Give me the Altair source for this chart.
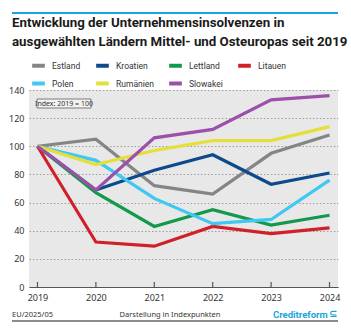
import altair as alt
import pandas as pd

years = ["2019", "2020", "2021", "2022", "2023", "2024"]
countries = ["Estland", "Kroatien", "Lettland", "Litauen", "Polen", "Rumänien", "Slowakei"]
colors = ["#858585", "#0c4a8c", "#12994a", "#d0212b", "#3ec8f2", "#e4df3a", "#9c50aa"]

estland = [100, 105, 72, 66, 95, 108]
kroatien = [100, 69, 83, 94, 73, 81]
lettland = [100, 67, 43, 55, 44, 51]
litauen = [100, 32, 29, 43, 38, 42]
polen = [100, 90, 63, 45, 48, 76]
rumaenien = [100, 87, 97, 104, 104, 114]
slowakei = [100, 69, 106, 112, 133, 136]

series = [estland, kroatien, lettland, litauen, polen, rumaenien, slowakei]
rows = []
for c, vals in zip(countries, series):
    for y, v in zip(years, vals):
        rows.append({"Jahr": y, "Land": c, "Wert": v})
df = pd.DataFrame(rows)

FONT = "Noto Sans"
TFONT = "Roboto"
W, H = 309, 197

xenc = alt.X("Jahr:O", scale=alt.Scale(type="point", padding=0.145),
             axis=alt.Axis(title=None, labelAngle=0, labelFontSize=9, labelColor="#333",
                           labelFont=FONT, labelPadding=6, domainColor="#555", domainWidth=1.2,
                           ticks=False, grid=False))
yenc = alt.Y("Wert:Q", scale=alt.Scale(domain=[0, 140], nice=False),
             axis=alt.Axis(title=None, values=[0, 20, 40, 60, 80, 100, 120, 140],
                           labelFontSize=9, labelColor="#333", labelFont=FONT, labelPadding=5,
                           domain=False, ticks=False, grid=True, gridColor="#8a8a8a",
                           gridDash=[1.5, 2], gridWidth=0.8))

lines = alt.Chart(df).mark_line(strokeWidth=3.2, strokeCap="butt", strokeJoin="miter").encode(
    x=xenc, y=yenc,
    color=alt.Color("Land:N", scale=alt.Scale(domain=countries, range=colors),
                    legend=alt.Legend(title=None, orient="none", legendX=1, legendY=-33,
                                      direction="horizontal", columns=4,
                                      symbolType="stroke", symbolStrokeWidth=4, symbolSize=160,
                                      labelFontSize=8.5, labelFont=TFONT, labelColor="#333",
                                      rowPadding=1, columnPadding=7, labelOffset=5,
                                      gridAlign="each")),
    order=alt.Order("Jahr:O"),
)

ticks_df = pd.DataFrame({"Jahr": years})
ticks = alt.Chart(ticks_df).mark_rule(color="#555", strokeWidth=1.2).encode(
    x=alt.X("Jahr:O"), y=alt.value(H - 5), y2=alt.value(H))

texts = pd.DataFrame({"a": [0]})
base = alt.Chart(texts)
title1 = base.mark_text(text="Entwicklung der Unternehmensinsolvenzen in", align="left",
                        baseline="alphabetic", font=TFONT, fontSize=13.3, fontWeight="bold",
                        color="#1a1a1a").encode(x=alt.value(-17), y=alt.value(-63))
title2 = base.mark_text(text="ausgewählten Ländern Mittel- und Osteuropas seit 2019", align="left",
                        baseline="alphabetic", font=TFONT, fontSize=13.3, fontWeight="bold",
                        color="#1a1a1a").encode(x=alt.value(-17), y=alt.value(-44))
topline = base.mark_rule(color="#1aa3dd", strokeWidth=2).encode(
    x=alt.value(-17), x2=alt.value(309), y=alt.value(-77))
botline = base.mark_rule(color="#666", strokeWidth=1.5).encode(
    x=alt.value(-17), x2=alt.value(309), y=alt.value(231))
foot1 = base.mark_text(text="EU/2025/05", align="left", baseline="alphabetic", font=FONT,
                       fontSize=7.5, color="#333").encode(x=alt.value(-17), y=alt.value(227))
foot2 = base.mark_text(text="Darstellung in Indexpunkten", align="center", baseline="alphabetic",
                       font=FONT, fontSize=7.5, color="#333").encode(x=alt.value(141), y=alt.value(227))
logo = base.mark_text(text="Creditreform", align="left", baseline="alphabetic", font=TFONT,
                      fontSize=9.5, fontWeight="bold", color="#1aa3dd").encode(
    x=alt.value(244), y=alt.value(228))
logoc = base.mark_text(text="⊆", align="left", baseline="alphabetic", font="DejaVu Sans",
                       fontSize=10, fontWeight="bold", color="#1aa3dd").encode(
    x=alt.value(300), y=alt.value(227))
box = base.mark_rect(fill="#f2f2f2", stroke="#7a7a7a", strokeWidth=1).encode(
    x=alt.value(8), x2=alt.value(62), y=alt.value(9), y2=alt.value(18))
boxtext = base.mark_text(text="Index: 2019 = 100", align="center", baseline="middle", font=FONT,
                         fontSize=7, color="#333").encode(x=alt.value(35), y=alt.value(13.5))

chart = alt.layer(lines, ticks, title1, title2, topline, botline, foot1, foot2, logo, logoc,
                  box, boxtext).properties(
    width=W, height=H,
    autosize=alt.AutoSizeParams(type="none"),
    padding={"left": 29, "top": 90, "right": 13, "bottom": 47},
    background="white",
).configure_view(fill="#e8e8e8", stroke=None)

chart.save("out.html", embed_options={"renderer": "svg", "actions": False})
